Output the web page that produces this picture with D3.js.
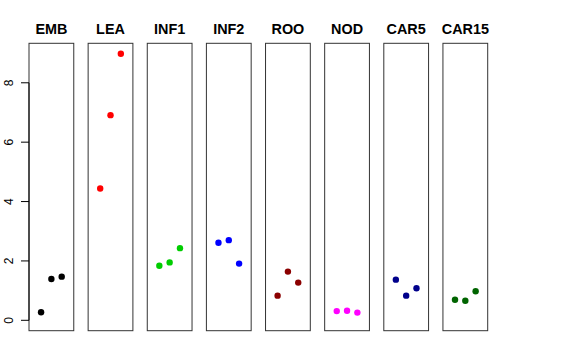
<!DOCTYPE html>
<html><head><meta charset="utf-8">
<script src="https://cdn.jsdelivr.net/npm/d3@7"></script>
<style>body{margin:0;background:#fff}svg{display:block}</style>
</head><body>
<script>
const categories = ["EMB","LEA","INF1","INF2","ROO","NOD","CAR5","CAR15"];
const colors = ["#000000","#FF0000","#00CD00","#0000FF","#8B0000","#FF00FF","#00008B","#006400"];
const rep1 = [0.27, 4.44, 1.84, 2.61, 0.83, 0.31, 1.37, 0.69];
const rep2 = [1.39, 6.91, 1.95, 2.70, 1.64, 0.32, 0.83, 0.66];
const rep3 = [1.47, 8.98, 2.43, 1.91, 1.27, 0.26, 1.08, 0.98];
const yTicks = [0, 2, 4, 6, 8];

const W = 576, H = 360;
const svg = d3.select("body").append("svg").attr("width", W).attr("height", H);

const plotTop = 43.3, plotBottom = 330.7;
const y = d3.scaleLinear().domain([-0.35, 9.33]).range([plotBottom, plotTop]);
const panel = d3.scaleBand().domain(categories).range([29, 487.7]).paddingInner(0.243).paddingOuter(0);
const pw = panel.bandwidth();
const x = d3.scaleLinear().domain([-0.17, 4.17]).range([0, pw]);

categories.forEach((c, i) => {
  const g = svg.append("g").attr("transform", `translate(${panel(c)},0)`);
  g.append("rect").attr("x", 0).attr("y", plotTop).attr("width", pw).attr("height", plotBottom - plotTop)
    .attr("fill", "none").attr("stroke", "#333").attr("stroke-width", 1);
  g.append("text").attr("x", pw / 2).attr("y", 34.3).attr("text-anchor", "middle")
    .attr("font-family", "Liberation Sans, Arial, sans-serif").attr("font-weight", "bold")
    .attr("font-size", 14.4).text(c);
  const vals = [rep1[i], rep2[i], rep3[i]];
  g.selectAll("circle").data(vals).enter().append("circle")
    .attr("cx", (d, j) => x(j + 1)).attr("cy", d => y(d)).attr("r", 3.2)
    .attr("fill", colors[i]);
});

// y axis
const ax = svg.append("g").attr("transform", "translate(29,0)");
ax.append("line").attr("x1", 0).attr("x2", 0).attr("y1", y(0)).attr("y2", y(8)).attr("stroke", "#000");
yTicks.forEach(t => {
  ax.append("line").attr("x1", -8).attr("x2", 0).attr("y1", y(t)).attr("y2", y(t)).attr("stroke", "#000");
  svg.append("text").attr("transform", `translate(12.5,${y(t)}) rotate(-90)`).attr("text-anchor", "middle")
    .attr("font-family", "Liberation Sans, Arial, sans-serif").attr("font-size", 12).text(t);
});
</script>
</body></html>
